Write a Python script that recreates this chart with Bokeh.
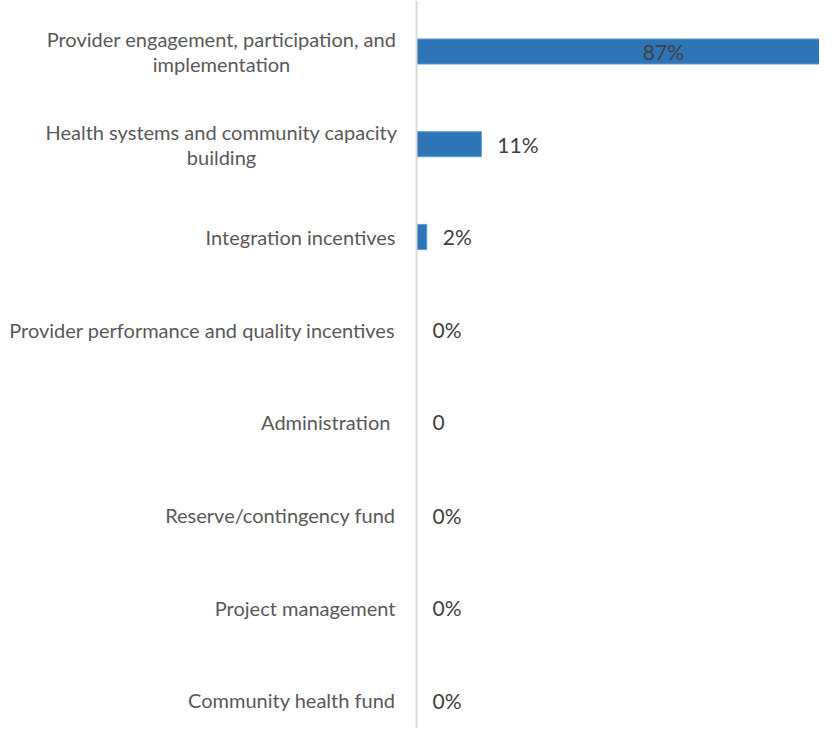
from bokeh.plotting import figure
from bokeh.models import ColumnDataSource, Range1d, Span
from bokeh.core.properties import value
from bokeh.embed import file_html
from bokeh.resources import INLINE

# ---- data ----
categories = [
    "Provider engagement, participation, and\nimplementation",
    "Health systems and community capacity\nbuilding",
    "Integration incentives",
    "Provider performance and quality incentives",
    "Administration ",
    "Reserve/contingency fund",
    "Project management",
    "Community health fund",
]
shares = [86.8, 11.4, 1.8, 0.0, 0.0, 0.0, 0.0, 0.0]
value_labels = ["87%", "11%", "2%", "0%", "0", "0%", "0%", "0%"]

# ---- layout constants ----
W, H = 819, 728
AXIS_PX = 416          # x pixel of the category axis inside the figure
PX_PER_PCT = 5.69
ROW_TOP_PX = 51        # pixel centre of first row
ROW_STEP_PX = 92.71
FONT = "Lato"

n = len(categories)
ys = [n - 1 - i for i in range(n)]

x_start = -AXIS_PX / PX_PER_PCT
x_end = (W - AXIS_PX) / PX_PER_PCT
y_end = (n - 1) + ROW_TOP_PX / ROW_STEP_PX
bottom_px = ROW_TOP_PX + (n - 1) * ROW_STEP_PX
y_start = -(H - bottom_px) / ROW_STEP_PX

p = figure(width=W, height=H, output_backend="svg", toolbar_location=None,
           x_range=Range1d(x_start, x_end), y_range=Range1d(y_start, y_end),
           min_border=0, outline_line_color=None)
p.axis.visible = False
p.grid.visible = False
p.background_fill_color = "white"
p.border_fill_color = "white"

bars = ColumnDataSource(dict(y=ys, right=shares))
p.hbar(y="y", left=0, right="right", height=0.27, source=bars,
       fill_color="#2e75b6", line_color="#5b9bd5", line_width=1)

p.add_layout(Span(location=0, dimension="height", line_color="#d9d9d9", line_width=2))

# category labels
lx, ly, lt, lxo, lyo, la = [], [], [], [], [], []
LINE_H = 25
GAP = 21
BLOCK_HALF = 174
for cat, y in zip(categories, ys):
    lines = cat.split("\n")
    if len(lines) == 1:
        lx.append(0); ly.append(y); lt.append(lines[0]); lxo.append(-GAP); lyo.append(0); la.append("right")
    else:
        k = len(lines)
        for j, line in enumerate(lines):
            lx.append(0); ly.append(y); lt.append(line)
            lxo.append(-(GAP + BLOCK_HALF))
            lyo.append((j - (k - 1) / 2) * LINE_H)
            la.append("center")
cat_src = ColumnDataSource(dict(x=lx, y=ly, text=lt, xo=lxo, yo=lyo, align=la))
p.text(x="x", y="y", text="text", x_offset="xo", y_offset="yo", text_align="align",
       text_baseline="middle", source=cat_src, text_font=value(FONT),
       text_font_size="20px", text_color="#595959")

# value labels
vx, vxo, va = [], [], []
for s in shares:
    if s > 50:
        vx.append(s / 2); vxo.append(0); va.append("center")
    else:
        vx.append(s); vxo.append(16); va.append("left")
val_src = ColumnDataSource(dict(x=vx, y=ys, text=value_labels, xo=vxo, align=va))
p.text(x="x", y="y", text="text", x_offset="xo", text_align="align",
       text_baseline="middle", source=val_src, text_font=value(FONT),
       text_font_size="21px", text_color="#404040")

open("out.html", "w").write(file_html(p, INLINE))
